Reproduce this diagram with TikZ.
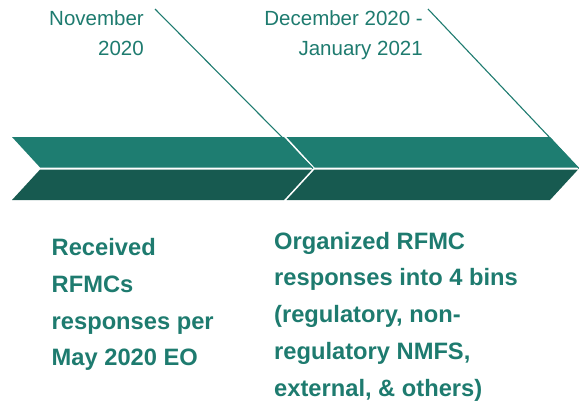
\documentclass[tikz,border=0pt]{standalone}
\usepackage{fontspec}
\setmainfont{Liberation Sans}
\definecolor{topband}{HTML}{1E7D71}
\definecolor{botband}{HTML}{175A50}
\definecolor{txt}{HTML}{1E7B6F}
\tikzset{
  toptext/.style={inner sep=0pt, align=right, text=txt, font=\fontsize{20.5}{30}\selectfont},
  bottext/.style={inner sep=0pt, align=left, text=txt, font=\fontsize{23.7}{36.7}\selectfont\bfseries},
  callout/.style={draw=txt, line width=1.1pt},
}
\begin{document}
\begin{tikzpicture}[x=1pt,y=-1pt]
\useasboundingbox (0,0) rectangle (579,402);
% labels (base anchor = baseline of the last line)
\node[toptext, anchor=base east] (nov) at (144,55) {November\\2020};
\node[toptext, anchor=base east] (dec) at (423,55) {December 2020 -\\January 2021};
\node[bottext, anchor=base west] (rec) at (51.5,365.7) {Received\\RFMCs\\responses per\\May 2020 EO};
\node[bottext, anchor=base west] (org) at (274,396) {Organized RFMC\\responses into 4 bins\\(regulatory, non-\\regulatory NMFS,\\external, \& others)};
% callout coordinates
\coordinate (c1) at (155,9);
\coordinate (tip1) at (313,168.5);
\coordinate (c2) at (428,9);
\coordinate (tip2) at (579,168.5);
\draw[callout] (c1) -- (tip1);
\draw[callout] (c2) -- (tip2);
% chevron 1
\fill[topband] (12,137) -- (284,137) -- (312.1,167.5) -- (40.1,167.5) -- cycle;
\fill[botband] (40.1,169.5) -- (312.1,169.5) -- (284,200) -- (12,200) -- cycle;
% chevron 2
\fill[topband] (286.5,137) -- (550,137) -- (578.1,167.5) -- (314.6,167.5) -- cycle;
\fill[botband] (314.6,169.5) -- (578.1,169.5) -- (550,200) -- (286.5,200) -- cycle;
\end{tikzpicture}
\end{document}
